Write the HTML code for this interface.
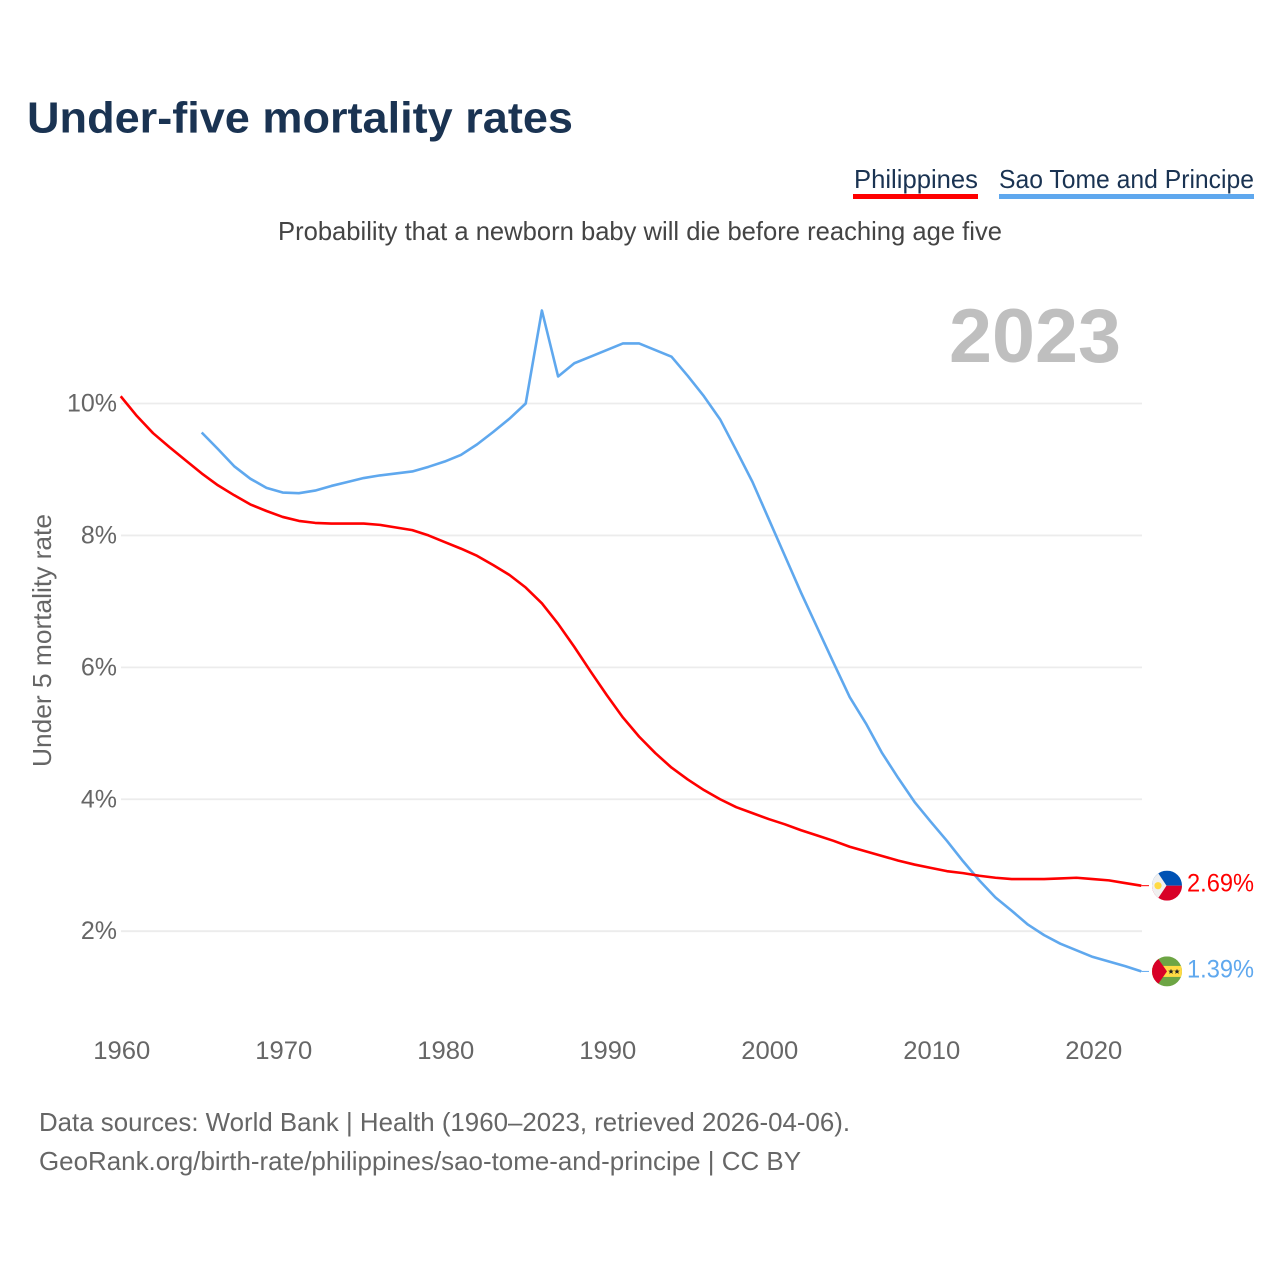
<!DOCTYPE html>
<html lang="en">
<head>
<meta charset="utf-8">
<title>Under-five mortality rates</title>
<style>
html,body{margin:0;padding:0;background:#fff;}
svg{display:block;font-family:"Liberation Sans",sans-serif;}
</style>
</head>
<body>
<svg id="chart" width="1280" height="1280" viewBox="0 0 1280 1280" xmlns="http://www.w3.org/2000/svg">
  <rect x="0" y="0" width="1280" height="1280" fill="#fff"/>
  <text x="27" y="132.5" font-size="44" font-weight="700" fill="#1a3352" textLength="546" lengthAdjust="spacingAndGlyphs">Under-five mortality rates</text>
  <g>
    <g>
      <text x="854" y="188" font-size="26" fill="#1a3352" textLength="124" lengthAdjust="spacingAndGlyphs">Philippines</text>
      <rect x="853" y="194" width="125" height="5" fill="#ff0000"/>
    </g>
    <g>
      <text x="999" y="188" font-size="26" fill="#1a3352" textLength="255" lengthAdjust="spacingAndGlyphs">Sao Tome and Principe</text>
      <rect x="999" y="194" width="255" height="5" fill="#5fa8ee"/>
    </g>
  </g>
  <text x="278" y="240" font-size="26" fill="#444" textLength="724" lengthAdjust="spacingAndGlyphs">Probability that a newborn baby will die before reaching age five</text>
  <text x="949" y="362" font-size="76" font-weight="700" fill="#bfbfbf" textLength="172" lengthAdjust="spacingAndGlyphs">2023</text>
  <text transform="translate(51 767) rotate(-90)" x="0" y="0" font-size="26" fill="#666" textLength="253" lengthAdjust="spacingAndGlyphs">Under 5 mortality rate</text>
  <g id="grid"></g>
  <g id="yticks"></g>
  <g id="xticks"></g>
  <g id="series"></g>
  <g id="ends"></g>
  <text x="39" y="1131" font-size="26" fill="#666" textLength="811" lengthAdjust="spacingAndGlyphs">Data sources: World Bank | Health (1960–2023, retrieved 2026-04-06).</text>
  <text x="39" y="1170" font-size="26" fill="#666" textLength="762" lengthAdjust="spacingAndGlyphs">GeoRank.org/birth-rate/philippines/sao-tome-and-principe | CC BY</text>
  <defs>
    <clipPath id="flag-clip"><circle cx="0" cy="0" r="15"/></clipPath>
  </defs>
</svg>
<script>
const startYear = 1960;
const endYear = 2023;
const yTicks = [10, 8, 6, 4, 2];
const yTickLabels = ["10%", "8%", "6%", "4%", "2%"];
const xTicks = [1960, 1970, 1980, 1990, 2000, 2010, 2020];
const xTickLabels = ["1960", "1970", "1980", "1990", "2000", "2010", "2020"];

const philippinesStart = 1960;
const philippinesValues = [10.11,9.81,9.55,9.34,9.14,8.94,8.76,8.61,8.47,8.37,8.28,8.22,8.19,8.18,8.18,8.18,8.16,8.12,8.08,8.00,7.90,7.80,7.69,7.55,7.40,7.21,6.97,6.66,6.31,5.94,5.58,5.24,4.95,4.70,4.48,4.30,4.14,4.00,3.88,3.79,3.70,3.62,3.53,3.45,3.37,3.28,3.21,3.14,3.07,3.01,2.96,2.91,2.88,2.84,2.81,2.79,2.79,2.79,2.80,2.81,2.79,2.77,2.73,2.69];
const saoTomeStart = 1965;
const saoTomeValues = [9.56,9.31,9.05,8.86,8.72,8.65,8.64,8.68,8.75,8.81,8.87,8.91,8.94,8.97,9.04,9.12,9.22,9.38,9.57,9.77,10.00,11.41,10.41,10.61,10.71,10.81,10.91,10.91,10.81,10.71,10.42,10.11,9.76,9.29,8.81,8.25,7.69,7.13,6.60,6.07,5.55,5.15,4.70,4.32,3.96,3.66,3.37,3.06,2.77,2.51,2.31,2.10,1.94,1.81,1.71,1.61,1.54,1.47,1.39];
const philippinesLabel = "2.69%";
const saoTomeLabel = "1.39%";

const NS = "http://www.w3.org/2000/svg";
function xScale(year) { return 120.7 + (year - startYear) * 16.2; }
function yScale(value) { return 403.5 + (10 - value) * 65.96; }
function make(tag, attrs, parent, text) {
  const el = document.createElementNS(NS, tag);
  for (const k in attrs) el.setAttribute(k, attrs[k]);
  if (text !== undefined) el.textContent = text;
  parent.appendChild(el);
  return el;
}

const grid = document.getElementById("grid");
const yTickGroup = document.getElementById("yticks");
const xTickGroup = document.getElementById("xticks");
const seriesGroup = document.getElementById("series");
const endsGroup = document.getElementById("ends");

yTicks.forEach(function (t, i) {
  const line = make("line", {x1: 121, x2: 1142, y1: yScale(t), y2: yScale(t), stroke: "#ececec", "stroke-width": 1.8}, grid);
  
  
  const label = make("text", {x: 117, y: yScale(t) + 8, "font-size": 25, fill: "#666", "text-anchor": "end"}, yTickGroup, yTickLabels[i]);
  
  
});

xTicks.forEach(function (t, i) {
  const label = make("text", {x: xScale(t) + 1.1, y: 1059, "font-size": 25, fill: "#666", "text-anchor": "middle", textLength: 57, lengthAdjust: "spacingAndGlyphs"}, xTickGroup, xTickLabels[i]);
  
  
});

function pathFor(values, start) {
  return values.map(function (v, i) {
    return (i ? "L" : "M") + xScale(start + i).toFixed(2) + " " + yScale(v).toFixed(2);
  }).join(" ");
}

const saoLine = make("path", {d: pathFor(saoTomeValues, saoTomeStart), fill: "none", stroke: "#5fa8ee", "stroke-width": 2.6, "stroke-linejoin": "round"}, seriesGroup);


const phLine = make("path", {d: pathFor(philippinesValues, philippinesStart), fill: "none", stroke: "#ff0000", "stroke-width": 2.6, "stroke-linejoin": "round"}, seriesGroup);



const phY = yScale(philippinesValues[philippinesValues.length - 1]);
const saoY = yScale(saoTomeValues[saoTomeValues.length - 1]);
const flagX = 1167;

const phLeader = make("line", {x1: xScale(endYear), x2: 1149, y1: phY, y2: phY, stroke: "#ff0000", "stroke-width": 1}, endsGroup);


const saoLeader = make("line", {x1: xScale(endYear), x2: 1149, y1: saoY, y2: saoY, stroke: "#5fa8ee", "stroke-width": 1}, endsGroup);



const phFlag = make("g", {transform: "translate(" + flagX + " " + phY + ")", "clip-path": "url(#flag-clip)"}, endsGroup);


make("rect", {x: -15, y: -15, width: 30, height: 15, fill: "#0052b4"}, phFlag);
make("rect", {x: -15, y: 0, width: 30, height: 15, fill: "#d80027"}, phFlag);
make("path", {d: "M-15 -15 L-10.5 -15 L-0.5 0 L-10.5 15 L-15 15 Z", fill: "#f0f0f0"}, phFlag);
make("circle", {cx: -9, cy: 0, r: 3.6, fill: "#ffda44"}, phFlag);

const saoFlag = make("g", {transform: "translate(" + flagX + " " + saoY + ")", "clip-path": "url(#flag-clip)"}, endsGroup);


make("rect", {x: -15, y: -15, width: 30, height: 30, fill: "#6da544"}, saoFlag);
make("rect", {x: -15, y: -5.5, width: 30, height: 11, fill: "#ffda44"}, saoFlag);
make("path", {d: "M-15 -15 L-10.5 -15 L0 0 L-10.5 15 L-15 15 Z", fill: "#d80027"}, saoFlag);
make("path", {d: "M4 -2.6 L4.8 -0.8 L6.8 -0.8 L5.2 0.5 L5.8 2.4 L4 1.3 L2.2 2.4 L2.8 0.5 L1.2 -0.8 L3.2 -0.8 Z", fill: "#222"}, saoFlag);
make("path", {d: "M10 -2.6 L10.8 -0.8 L12.8 -0.8 L11.2 0.5 L11.8 2.4 L10 1.3 L8.2 2.4 L8.8 0.5 L7.2 -0.8 L9.2 -0.8 Z", fill: "#222"}, saoFlag);

const phValueLabel = make("text", {x: 1254, y: phY + 6, "font-size": 25, fill: "#ff0000", "text-anchor": "end", textLength: 67, lengthAdjust: "spacingAndGlyphs"}, endsGroup, philippinesLabel);


const saoValueLabel = make("text", {x: 1254, y: saoY + 6, "font-size": 25, fill: "#5fa8ee", "text-anchor": "end", textLength: 67, lengthAdjust: "spacingAndGlyphs"}, endsGroup, saoTomeLabel);


</script>
</body>
</html>
